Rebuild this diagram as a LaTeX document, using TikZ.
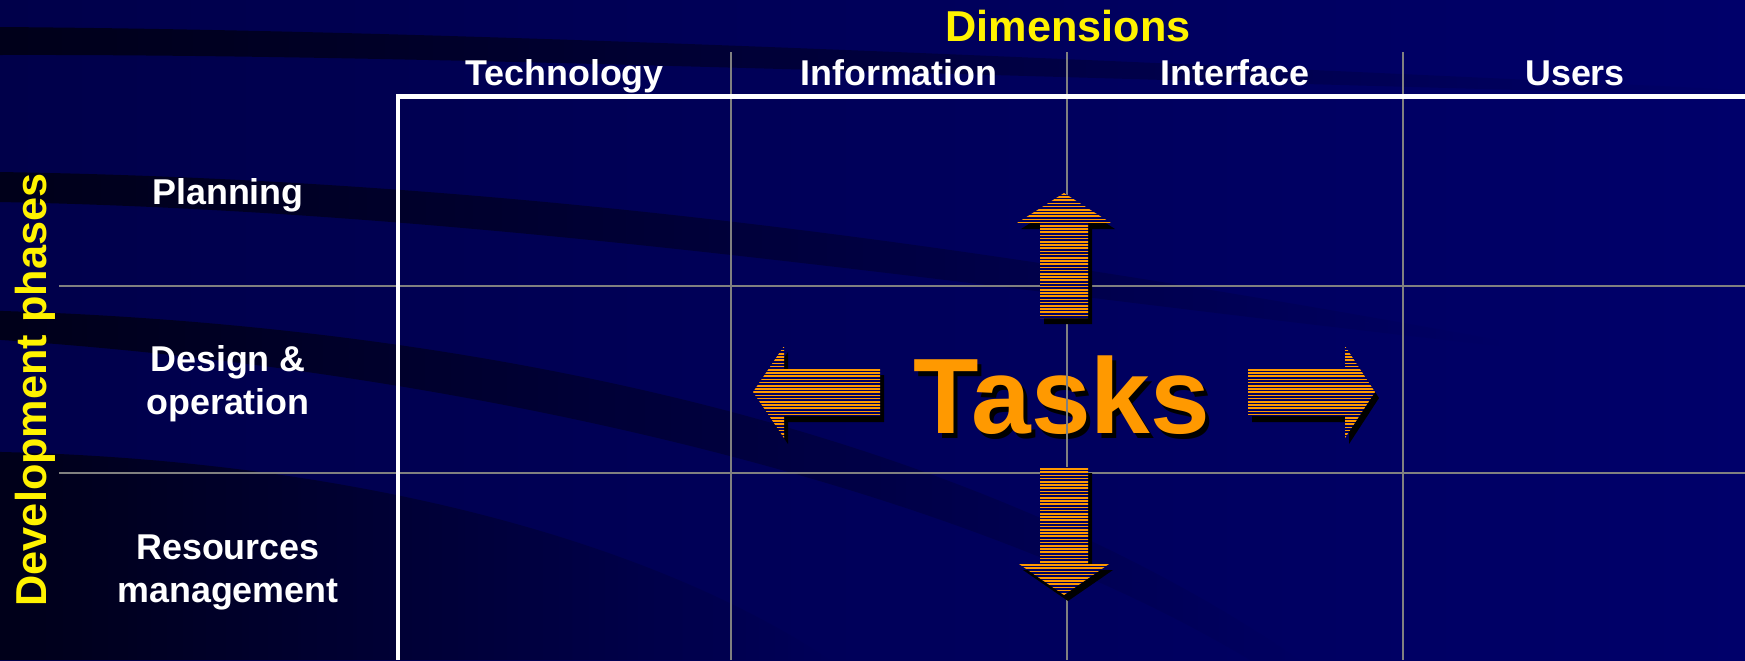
\documentclass[tikz,border=0pt]{standalone}
\usepackage{fontspec}
\setmainfont{Liberation Sans}
\usetikzlibrary{fadings}
\definecolor{bgleft}{RGB}{0,0,74}
\definecolor{bgright}{RGB}{0,0,106}
\definecolor{taskorange}{RGB}{255,153,0}
\definecolor{gridgray}{RGB}{128,128,128}
\definecolor{arrowblue}{RGB}{0,0,96}
\tikzset{
  band/.style={fill=black,fill opacity=0.65,path fading=east},
  gridline/.style={draw=gridgray,line width=0.6pt},
  frame/.style={draw=white,line width=1.4pt},
  colhead/.style={text=white,anchor=base,font=\fontsize{10.2}{12.2}\selectfont\bfseries},
  rowhead/.style={text=white,align=center,font=\fontsize{10.2}{12.2}\selectfont\bfseries},
  axishead/.style={text=yellow,anchor=base,font=\fontsize{12.3}{14}\selectfont\bfseries},
  tasktext/.style={anchor=base,font=\fontsize{30.5}{36}\selectfont\bfseries},
  stripe/.style={draw=taskorange,line width=0.5pt}
}
\newcommand\taskarrows{
  (1040,318) -- (1040,223) -- (1017,223) -- (1064,193) -- (1111,223) -- (1088,223) -- (1088,318) -- cycle
  (1040,467) -- (1040,564) -- (1019,564) -- (1064,595) -- (1109,564) -- (1088,564) -- (1088,467) -- cycle
  (880,369) -- (784,369) -- (784,346) -- (753,392) -- (784,438) -- (784,416) -- (880,416) -- cycle
  (1248,369) -- (1345,369) -- (1345,346) -- (1375,392) -- (1345,438) -- (1345,416) -- (1248,416) -- cycle}
\begin{document}
\begin{tikzpicture}[x=0.01cm,y=-0.01cm]
    \useasboundingbox (0,0) rectangle (1745,660);
    \shade[left color=bgleft,right color=bgright] (0,0) rectangle (1745,660);
    \fill[band] (0,27) .. controls (400,30) and (900,50) .. (1745,90) -- (1745,96) .. controls (900,74) and (400,54) .. (0,55) -- cycle;
    \fill[band] (0,172) .. controls (500,180) and (950,240) .. (1500,340) -- (1500,346) .. controls (950,285) and (500,212) .. (0,202) -- cycle;
    \fill[band] (0,311) .. controls (450,325) and (950,420) .. (1300,660) -- (1250,660) .. controls (950,480) and (450,370) .. (0,340) -- cycle;
    \fill[band] (0,452) .. controls (350,460) and (650,540) .. (830,660) -- (0,660) -- cycle;
    \node[tasktext,text=black] (taskshadow) at (1066,438) {Tasks};
    \node[tasktext,text=taskorange] (tasks) at (1062,433) {Tasks};
    \foreach \x in {731,1067,1403}
      \draw[gridline] (\x,52) -- (\x,660);
    \foreach \y in {286,473}
      \draw[gridline] (59,\y) -- (1745,\y);
    \draw[frame] (1745,96.5) -- (398,96.5) -- (398,660);
    \fill[black,shift={(4,6)}] \taskarrows;
    \begin{scope}
      \clip \taskarrows;
      \fill[arrowblue] (740,180) rectangle (1390,610);
      \foreach \y in {181,184.2,...,610}
        \draw[stripe] (740,\y) -- (1390,\y);
    \end{scope}
    \node[axishead] (dims) at (1068,41) {Dimensions};
    \node[colhead] (tech) at (564.5,85) {Technology};
    \node[colhead] (info) at (899,85) {Information};
    \node[colhead] (iface) at (1235,85) {Interface};
    \node[colhead] (users) at (1575,85) {Users};
    \node[axishead,rotate=90] (phases) at (47,390) {Development phases};
    \node[rowhead,anchor=base] (plan) at (228,204) {Planning};
    \node[rowhead] (design) at (228,384) {Design \&\\operation};
    \node[rowhead] (res) at (228,572) {Resources\\management};
  \end{tikzpicture}
\end{document}
